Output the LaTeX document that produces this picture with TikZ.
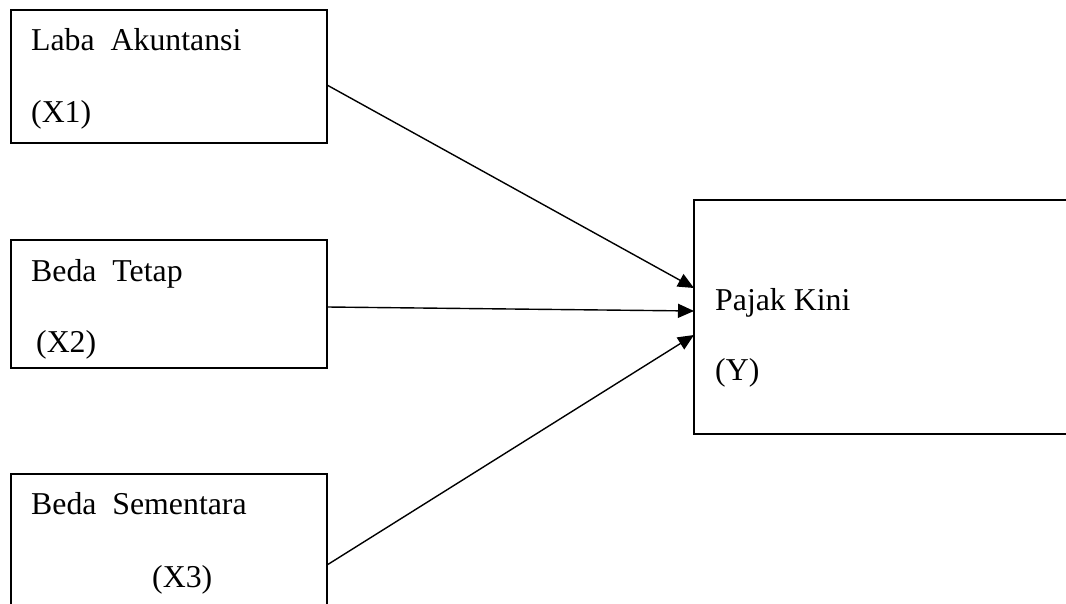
\documentclass[tikz,border=0pt]{standalone}
\usepackage{fontspec}
\setmainfont{Liberation Serif}
\usetikzlibrary{arrows.meta}
\begin{document}
\begin{tikzpicture}[x=1pt,y=-1pt,
  box/.style={draw,line width=1.5pt,inner sep=0pt,outer sep=0pt,minimum width=#1},
  lbl/.style={anchor=base west,inner sep=0pt,font=\fontsize{31.8}{38}\selectfont},
  arr/.style={line width=1.4pt,-{Triangle[length=16pt,width=14pt]}}]
\useasboundingbox (0,0) rectangle (1066,604);
\node[box=316pt,minimum height=133pt] (b1) at (169,76.5) {};
\node[box=316pt,minimum height=128pt] (b2) at (169,304) {};
\node[box=316pt,minimum height=166pt] (b3) at (169,557) {};
\node[box=406pt,minimum height=234pt] (y) at (897,317) {};
\node[lbl] (t1a) at (31,51) {Laba\ \ Akuntansi};
\node[lbl] (t1b) at (31,123) {(X1)};
\node[lbl] (t2a) at (31,281) {Beda\ \ Tetap};
\node[lbl] (t2b) at (36,352) {(X2)};
\node[lbl] (t3a) at (31,514) {Beda\ \ Sementara};
\node[lbl] (t3b) at (152,587) {(X3)};
\node[lbl] (tya) at (715,310) {Pajak Kini};
\node[lbl] (tyb) at (715,380) {(Y)};
\draw[arr] ([yshift=-8.5pt]b1.east) -- ([yshift=29pt]y.west);
\draw[arr] ([yshift=-3pt]b2.east) -- ([yshift=6pt]y.west);
\draw[arr] ([yshift=-8pt]b3.east) -- ([yshift=-18pt]y.west);
\end{tikzpicture}
\end{document}
